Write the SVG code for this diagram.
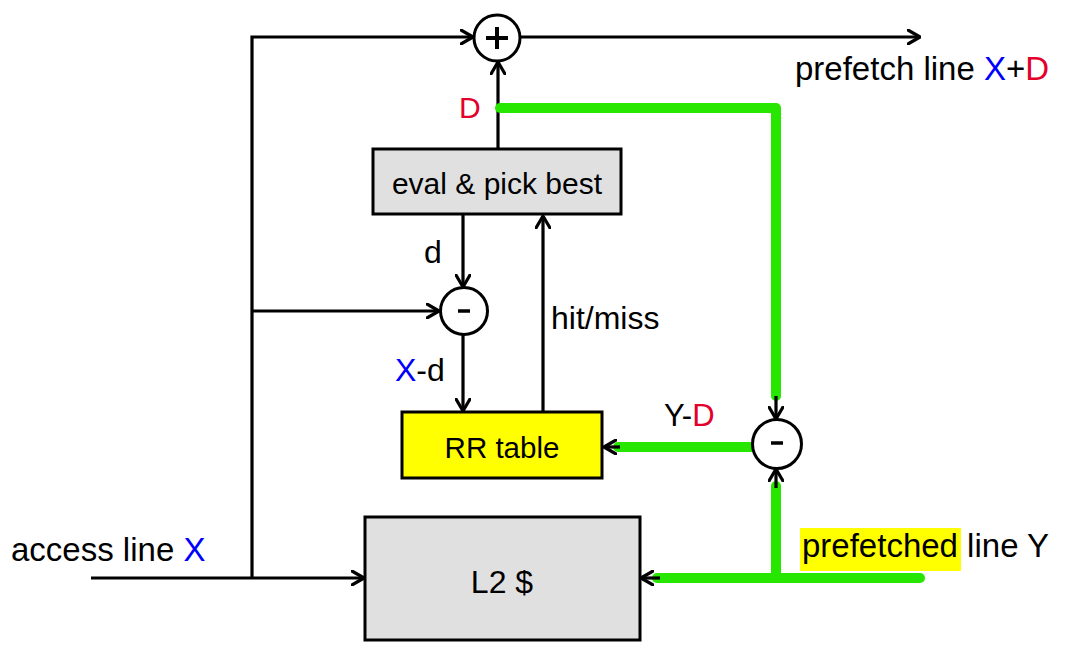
<svg xmlns="http://www.w3.org/2000/svg" width="1085" height="648" viewBox="0 0 1085 648">
<style>
.t{font-family:"Liberation Sans",Arial,sans-serif;fill:#000}
.b{fill:#0000ff}.r{fill:#e3002a}
.ln{stroke:#000;stroke-width:3.2;fill:none}
.g{stroke:#27e600;stroke-width:10;fill:none;stroke-linecap:round;stroke-linejoin:round}
.box{stroke:#000;stroke-width:3}
</style>
<defs>
<marker id="ah" viewBox="0 0 14 16" refX="13" refY="8" markerWidth="14" markerHeight="16" markerUnits="userSpaceOnUse" orient="auto">
<path d="M1,1 L13,8 L1,15" fill="none" stroke="#000" stroke-width="3.2" stroke-linecap="round" stroke-linejoin="round"/>
</marker>
</defs>
<rect width="1085" height="648" fill="#fff"/>
<g id="connectors">
<path class="ln" d="M252,578 V37 H473" marker-end="url(#ah)"/>
<path class="ln" d="M521,37 H920" marker-end="url(#ah)"/>
<path class="ln" d="M498,149 V62" marker-end="url(#ah)"/>
<path class="ln" d="M91,578 H364" marker-end="url(#ah)"/>
<path class="ln" d="M252,311 H439" marker-end="url(#ah)"/>
<path class="ln" d="M463,214 V287" marker-end="url(#ah)"/>
<path class="ln" d="M463,335 V411" marker-end="url(#ah)"/>
<path class="ln" d="M543,412 V216" marker-end="url(#ah)"/>
<path class="g" d="M500,108 H776 V396"/>
<path class="ln" d="M776,396 V419" marker-end="url(#ah)"/>
<path class="g" d="M752,447 H618"/>
<path class="ln" d="M620,447 H604" marker-end="url(#ah)"/>
<path class="g" d="M920,578 H657"/>
<path class="ln" d="M660,578 H641" marker-end="url(#ah)"/>
<path class="g" d="M776,578 V486"/>
<path class="ln" d="M776,488 V469" marker-end="url(#ah)"/>
</g>
<g id="plus">
<circle cx="497" cy="38" r="23" fill="#fff" class="box"/>
<path d="M486,38 H508 M497,27 V49" stroke="#000" stroke-width="4"/>
</g>
<g id="minus1">
<circle cx="464" cy="311" r="23.5" fill="#fff" class="box"/>
<path d="M458,311 H470" stroke="#000" stroke-width="3.5"/>
</g>
<g id="minus2">
<circle cx="777" cy="444" r="24.5" fill="#fff" class="box"/>
<path d="M771,443 H783" stroke="#000" stroke-width="3.5"/>
</g>
<g id="eval">
<rect x="373" y="149" width="248" height="65" fill="#e0e0e0" class="box"/>
<text class="t" x="497" y="194" font-size="30" text-anchor="middle">eval &amp; pick best</text>
</g>
<g id="rr">
<rect x="402" y="412" width="200" height="66" fill="#ffff00" class="box"/>
<text class="t" x="502" y="458" font-size="29.5" text-anchor="middle">RR table</text>
</g>
<g id="l2">
<rect x="365" y="517" width="275" height="123" fill="#e0e0e0" class="box"/>
<text class="t" x="502" y="593" font-size="32" text-anchor="middle">L2 $</text>
</g>
<g id="labels">
<text class="t" x="795" y="80" font-size="33">prefetch line <tspan class="b">X</tspan>+<tspan class="r">D</tspan></text>
<text class="t r" x="459" y="118" font-size="30">D</text>
<text class="t" x="424" y="263" font-size="32">d</text>
<text class="t" x="551" y="329" font-size="32">hit/miss</text>
<text class="t" x="395" y="381" font-size="32"><tspan class="b">X</tspan>-d</text>
<text class="t" x="664" y="426" font-size="31">Y-<tspan class="r">D</tspan></text>
<text class="t" x="11" y="561" font-size="33">access line <tspan class="b">X</tspan></text>
<rect x="800" y="528" width="161" height="43" fill="#ffff00"/>
<text class="t" x="802" y="557" font-size="33">prefetched line Y</text>
</g>
</svg>
